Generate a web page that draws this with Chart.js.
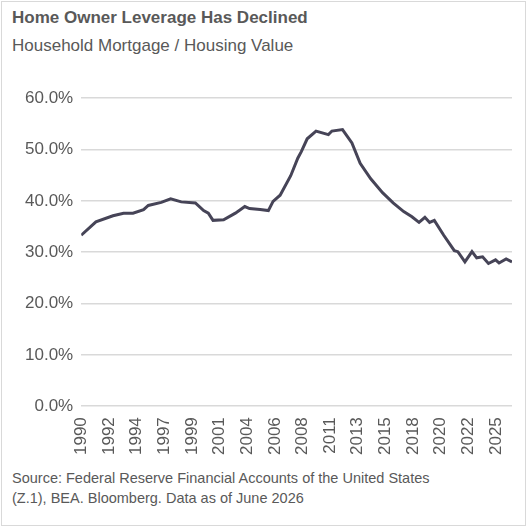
<!DOCTYPE html>
<html><head><meta charset="utf-8">
<script src="https://cdn.jsdelivr.net/npm/chart.js@4"></script>
<style>
body{margin:0;background:#fff;font-family:Arial,"Liberation Sans",sans-serif;}
#box{position:absolute;left:1px;top:1px;width:525px;height:525px;border:1px solid #d9d9d9;box-sizing:border-box;}
#t{position:absolute;left:12px;top:8px;font-size:17px;font-weight:bold;color:#595959;}
#s{position:absolute;left:12px;top:36px;font-size:17px;color:#595959;}
#f{position:absolute;left:12px;top:468px;font-size:14.5px;color:#595959;line-height:20px;}
#c{position:absolute;left:0;top:80px;width:529px;height:378px;}
</style></head><body>
<div id="box"></div>
<div id="t">Home Owner Leverage Has Declined</div>
<div id="s">Household Mortgage / Housing Value</div>
<div id="c"><canvas id="cv"></canvas></div>
<div id="f">Source: Federal Reserve Financial Accounts of the United States<br>(Z.1), BEA. Bloomberg. Data as of June 2026</div>
<script>
const years=[1990.0,1991.25,1992.7,1993.6,1994.4,1995.3,1995.7,1996.8,1997.6,1998.5,1999.7,2000.4,2000.8,2001.2,2002.1,2003.1,2003.9,2004.3,2005.2,2005.9,2006.3,2006.9,2007.8,2008.4,2008.7,2009.2,2009.95,2011.0,2011.3,2012.2,2013.0,2013.7,2014.6,2015.6,2016.5,2017.4,2018.1,2018.7,2019.2,2019.6,2020.0,2020.8,2021.7,2022.0,2022.6,2023.2,2023.6,2024.1,2024.6,2025.2,2025.5,2026.1,2026.6];
const values=[33.3,35.9,37.1,37.6,37.6,38.3,39.1,39.7,40.4,39.8,39.6,38.1,37.6,36.2,36.3,37.6,38.9,38.5,38.3,38.1,39.9,41.1,44.9,48.3,49.6,52.1,53.6,52.9,53.6,53.9,51.3,47.3,44.3,41.6,39.6,37.9,36.9,35.8,36.8,35.8,36.2,33.3,30.3,30.1,28.1,30.1,28.9,29.1,27.8,28.5,27.9,28.7,28.1];
const tickLabels=["1990","1992","1994","1997","1999","2001","2004","2006","2008","2011","2013","2015","2018","2020","2022","2025"];
const tickPos=tickLabels.map((l,i)=>1990+2.35*i);
const yTicks=[0,10,20,30,40,50,60];
new Chart(document.getElementById('cv'),{
 type:'line',
 data:{datasets:[{data:years.map((x,i)=>({x,y:values[i]})),borderColor:'#464457',borderWidth:3,pointRadius:0,tension:0}]},
 options:{responsive:true,maintainAspectRatio:false,animation:false,
  layout:{padding:{left:17,right:17,top:15,bottom:0}},
  plugins:{legend:{display:false},tooltip:{enabled:false}},
  scales:{
   x:{type:'linear',min:1990,max:2026.6,
     afterBuildTicks:a=>{a.ticks=tickPos.map(v=>({value:v}));},
     ticks:{autoSkip:false,maxRotation:90,minRotation:90,color:'#595959',font:{size:17,family:'Arial'},padding:3,
       callback:(v,i)=>tickLabels[i]},
     grid:{display:false},border:{display:false}},
   y:{min:0,max:60,
     afterBuildTicks:a=>{a.ticks=yTicks.map(v=>({value:v}));},
     ticks:{color:'#595959',font:{size:17,family:'Arial'},padding:8,callback:v=>v.toFixed(1)+'%'},
     grid:{color:'#d9d9d9',lineWidth:1.5,drawTicks:false},border:{display:false}}
  }}
});
</script></body></html>
